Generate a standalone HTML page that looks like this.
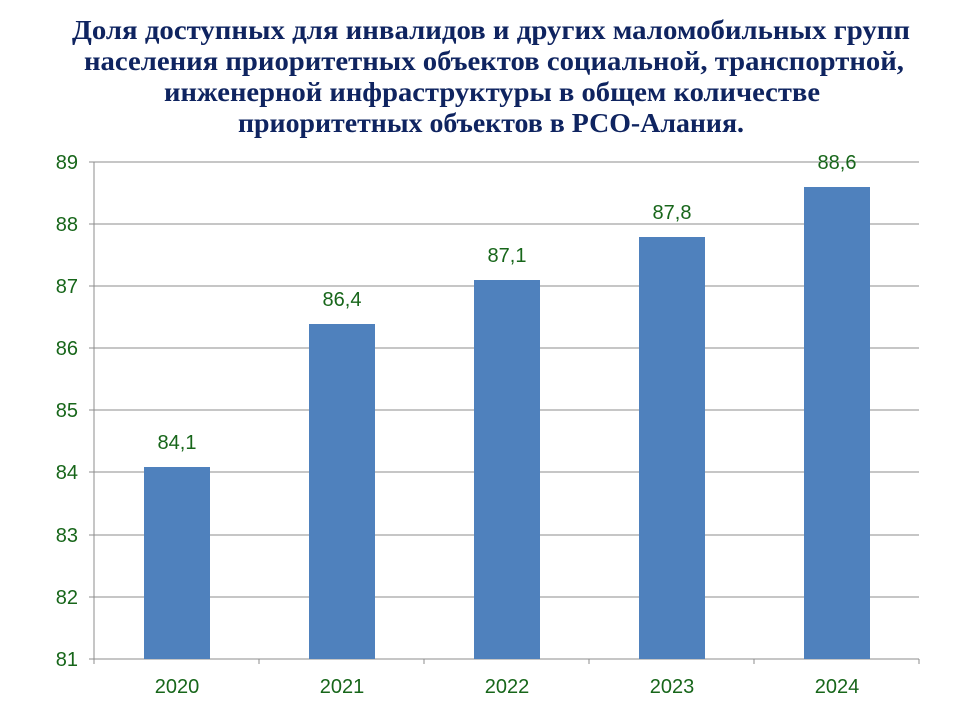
<!DOCTYPE html>
<html><head><meta charset="utf-8"><style>body{margin:0;background:#fff}svg{display:block}</style></head>
<body>
<svg width="960" height="720" xmlns="http://www.w3.org/2000/svg">
<g font-family="'Liberation Serif',serif" font-weight="bold" font-size="27" fill="#0F2460" text-anchor="middle">
<text x="491" y="39" textLength="838" lengthAdjust="spacingAndGlyphs">Доля доступных  для инвалидов и других маломобильных групп</text>
<text x="494" y="70" textLength="820" lengthAdjust="spacingAndGlyphs">населения приоритетных объектов  социальной, транспортной,</text>
<text x="492" y="101" textLength="656" lengthAdjust="spacingAndGlyphs">инженерной инфраструктуры в общем количестве</text>
<text x="491" y="132" textLength="506" lengthAdjust="spacingAndGlyphs">приоритетных объектов в РСО-Алания.</text>
</g>
<g stroke="#8c8c8c" stroke-width="1">
<line x1="89" y1="162" x2="919" y2="162"/>
<line x1="89" y1="224" x2="919" y2="224"/>
<line x1="89" y1="286" x2="919" y2="286"/>
<line x1="89" y1="348" x2="919" y2="348"/>
<line x1="89" y1="410" x2="919" y2="410"/>
<line x1="89" y1="472" x2="919" y2="472"/>
<line x1="89" y1="535" x2="919" y2="535"/>
<line x1="89" y1="597" x2="919" y2="597"/>
<line x1="89" y1="659" x2="919" y2="659"/>
<line x1="94" y1="162" x2="94" y2="664"/>
<line x1="259" y1="659" x2="259" y2="664"/>
<line x1="424" y1="659" x2="424" y2="664"/>
<line x1="589" y1="659" x2="589" y2="664"/>
<line x1="754" y1="659" x2="754" y2="664"/>
<line x1="919" y1="659" x2="919" y2="664"/>
</g>
<g fill="#4F81BD">
<rect x="144" y="467" width="66" height="192"/>
<rect x="309" y="324" width="66" height="335"/>
<rect x="474" y="280" width="66" height="379"/>
<rect x="639" y="237" width="66" height="422"/>
<rect x="804" y="187" width="66" height="472"/>
</g>
<g font-family="'Liberation Sans',sans-serif" font-size="20" fill="#17661A">
<g text-anchor="end">
<text x="78" y="169">89</text><text x="78" y="231">88</text><text x="78" y="293">87</text>
<text x="78" y="355">86</text><text x="78" y="417">85</text><text x="78" y="479">84</text>
<text x="78" y="542">83</text><text x="78" y="604">82</text><text x="78" y="666">81</text>
</g>
<g text-anchor="middle">
<text x="177" y="693">2020</text><text x="342" y="693">2021</text><text x="507" y="693">2022</text>
<text x="672" y="693">2023</text><text x="837" y="693">2024</text>
<text x="177" y="449">84,1</text><text x="342" y="306">86,4</text><text x="507" y="262">87,1</text>
<text x="672" y="219">87,8</text><text x="837" y="169">88,6</text>
</g>
</g>
</svg>
</body></html>
